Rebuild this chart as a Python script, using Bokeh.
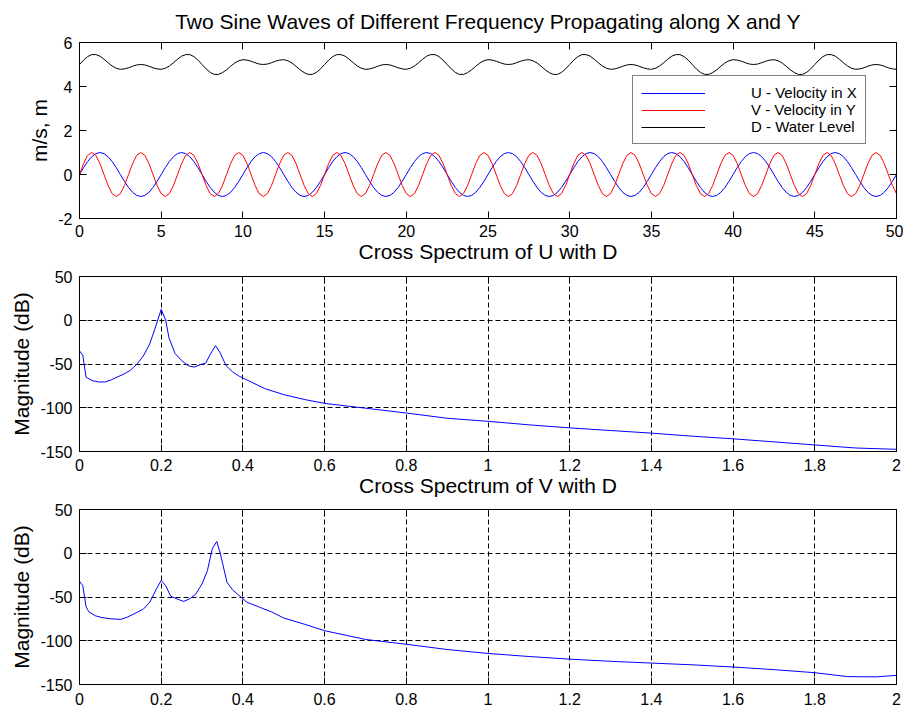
import numpy as np
from bokeh.plotting import figure
from bokeh.layouts import column
from bokeh.models import (Range1d, LinearAxis, FixedTicker, Legend, LegendItem,
                          CustomJSTickFormatter, Title)
from bokeh.embed import file_html
from bokeh.resources import INLINE

FONT = "Liberation Sans"

# ---------------- data ----------------
DT = 0.25          # sample spacing of the time series (s)
N_SAMPLES = 201    # 0 .. 50 s

# one observed cycle of each series (they repeat unchanged across the plot)
U_CYCLE = [0.00, 0.31, 0.59, 0.81, 0.95, 1.00, 0.95, 0.81, 0.59, 0.31,
           0.00, -0.31, -0.59, -0.81, -0.95, -1.00, -0.95, -0.81, -0.59, -0.31]
V_CYCLE = [0.00, 0.50, 0.87, 1.00, 0.87, 0.50, 0.00, -0.50, -0.87, -1.00, -0.87, -0.50]
D_CYCLE = [5.00, 5.20, 5.36, 5.45, 5.45, 5.38, 5.24, 5.08, 4.93, 4.83,
           4.78, 4.80, 4.85, 4.92, 4.98, 5.00, 4.98, 4.92, 4.85, 4.80,
           4.78, 4.83, 4.93, 5.08, 5.24, 5.38, 5.45, 5.45, 5.36, 5.20,
           5.00, 4.80, 4.64, 4.55, 4.55, 4.63, 4.76, 4.92, 5.07, 5.17,
           5.22, 5.20, 5.15, 5.08, 5.02, 5.00, 5.02, 5.08, 5.15, 5.20,
           5.22, 5.17, 5.07, 4.92, 4.76, 4.63, 4.55, 4.55, 4.64, 4.80]

SERIES_LABELS = ["U - Velocity in X", "V - Velocity in Y", "D - Water Level"]

UD_F = [0.000, 0.008, 0.016, 0.031, 0.047, 0.063, 0.078, 0.094, 0.109, 0.125,
        0.141, 0.156, 0.172, 0.188, 0.200, 0.211, 0.219, 0.234, 0.250, 0.266,
        0.281, 0.297, 0.309, 0.320, 0.333, 0.344, 0.359, 0.375, 0.391, 0.422,
        0.453, 0.500, 0.550, 0.600, 0.700, 0.800, 0.900, 1.000, 1.100, 1.200,
        1.300, 1.400, 1.500, 1.600, 1.700, 1.800, 1.900, 2.000]
UD_DB = [-35, -40, -65, -69, -70.5, -70.5, -68, -64.5, -61.5, -57,
         -50, -41, -27, -5, 12.5, 0, -20, -38, -46, -52,
         -53.5, -50.5, -49, -39, -29, -37, -52, -59, -64, -71,
         -78, -85, -90.5, -95, -100.5, -106, -112, -115.5, -119.5, -123,
         -126, -129, -132.5, -135.5, -139, -142.5, -146, -147.5]

VD_F = [0.000, 0.008, 0.016, 0.023, 0.039, 0.055, 0.078, 0.102, 0.117, 0.141,
        0.156, 0.172, 0.188, 0.200, 0.211, 0.223, 0.240, 0.255, 0.270, 0.284,
        0.300, 0.313, 0.325, 0.336, 0.345, 0.361, 0.375, 0.395, 0.410, 0.440,
        0.470, 0.500, 0.550, 0.600, 0.700, 0.800, 0.900, 1.000, 1.100, 1.200,
        1.300, 1.400, 1.500, 1.600, 1.700, 1.800, 1.880, 1.950, 2.000]
VD_DB = [-32, -37, -61, -67, -71.5, -73.5, -75, -75.5, -73, -67.5,
         -64, -56, -41, -31, -37, -49, -52.5, -55, -52, -47,
         -35, -20, 5, 13.5, -1, -33, -42, -50, -56, -61.5,
         -67, -74, -81, -88.5, -98.5, -104, -110, -114.5, -118, -121,
         -123.5, -125.5, -127.5, -130, -133, -136.5, -141, -141.3, -139.5]

TITLES = ["Two Sine Waves of Different Frequency Propagating along X and Y",
          "Cross Spectrum of U with D",
          "Cross Spectrum of V with D"]
YLABELS = ["m/s, m", "Magnitude (dB)", "Magnitude (dB)"]

TOP_XTICKS = [0, 5, 10, 15, 20, 25, 30, 35, 40, 45, 50]
TOP_YTICKS = [-2, 0, 2, 4, 6]
SPEC_XTICKS = [0, 0.2, 0.4, 0.6, 0.8, 1, 1.2, 1.4, 1.6, 1.8, 2]
SPEC_YTICKS = [-150, -100, -50, 0, 50]

t = np.arange(N_SAMPLES) * DT
u = np.resize(np.array(U_CYCLE), N_SAMPLES)
v = np.resize(np.array(V_CYCLE), N_SAMPLES)
d = np.resize(np.array(D_CYCLE), N_SAMPLES)

W = 903
BORDER_L = 79
BORDER_R = 7


def title_obj(text, standoff):
    return Title(text=text, text_font=FONT, text_font_size="21px",
                 text_font_style="normal", text_color="black",
                 align="center", vertical_align="top", standoff=standoff)


def make_fig(top, frame_h, bottom, xr, yr, xticks, yticks, ylabel, xstandoff, grid):
    p = figure(width=W, height=top + frame_h + bottom,
               x_range=Range1d(*xr), y_range=Range1d(*yr),
               output_backend="svg", toolbar_location=None,
               min_border_left=BORDER_L, min_border_right=BORDER_R,
               min_border_top=top, min_border_bottom=bottom)
    p.background_fill_color = "white"
    p.border_fill_color = "white"
    p.outline_line_color = "black"
    p.outline_line_width = 1

    xa = p.xaxis[0]
    ya = p.yaxis[0]
    xa.ticker = FixedTicker(ticks=xticks)
    ya.ticker = FixedTicker(ticks=yticks)
    for ax in (xa, ya):
        ax.formatter = CustomJSTickFormatter(code="return String(tick)")
        ax.axis_line_color = "black"
        ax.major_tick_in = 7
        ax.major_tick_out = 0
        ax.minor_tick_line_color = None
        ax.major_tick_line_color = "black"
        ax.major_label_text_font = FONT
        ax.major_label_text_font_size = "16px"
        ax.major_label_text_color = "black"
    xa.major_label_standoff = xstandoff
    ya.major_label_standoff = 7
    ya.axis_label = ylabel
    ya.axis_label_text_font = FONT
    ya.axis_label_text_font_size = "21px"
    ya.axis_label_text_font_style = "normal"
    ya.axis_label_text_color = "black"
    ya.axis_label_standoff = 4

    # mirrored inward ticks on top and right (box on), no labels
    for side, ticks in (("above", xticks), ("right", yticks)):
        ax = LinearAxis(ticker=FixedTicker(ticks=ticks),
                        formatter=CustomJSTickFormatter(code="return ''"),
                        major_tick_in=7, major_tick_out=0,
                        minor_tick_line_color=None,
                        axis_line_color="black", major_tick_line_color="black",
                        major_label_text_color=None,
                        major_label_text_font_size="1px", major_label_standoff=0)
        p.add_layout(ax, side)

    if grid:
        p.xgrid.ticker = FixedTicker(ticks=xticks)
        p.ygrid.ticker = FixedTicker(ticks=yticks)
        for g in (p.xgrid, p.ygrid):
            g.grid_line_color = "black"
            g.grid_line_dash = "5 3"
            g.grid_line_width = 1
    else:
        p.xgrid.grid_line_color = None
        p.ygrid.grid_line_color = None
    return p


# ---------------- top: time series ----------------
p1 = make_fig(42, 176, 52, (0, 50), (-2, 6), TOP_XTICKS, TOP_YTICKS,
              YLABELS[0], 6, False)
p1.add_layout(title_obj(TITLES[0], 15), "above")
# the title of the next subplot sits right under these tick labels
p1.add_layout(title_obj(TITLES[1], 0), "below")
r_u = p1.line(t, u, line_color="#0000ff", line_width=1)
r_v = p1.line(t, v, line_color="#ff0000", line_width=1)
r_d = p1.line(t, d, line_color="#000000", line_width=1)

legend = Legend(items=[LegendItem(label=SERIES_LABELS[0], renderers=[r_u]),
                       LegendItem(label=SERIES_LABELS[1], renderers=[r_v]),
                       LegendItem(label=SERIES_LABELS[2], renderers=[r_d])],
                location=(553, 74))
legend.label_text_font = FONT
legend.label_text_font_size = "15px"
legend.label_text_color = "black"
legend.glyph_width = 64
legend.glyph_height = 16
legend.label_height = 16
legend.label_standoff = 46
legend.spacing = 0
legend.padding = 8
legend.margin = 0
legend.border_line_color = "black"
legend.border_line_width = 1
legend.background_fill_color = "white"
legend.background_fill_alpha = 1
p1.add_layout(legend)

# ---------------- middle: cross spectrum U-D ----------------
p2 = make_fig(6, 175, 52, (0, 2), (-150, 50), SPEC_XTICKS, SPEC_YTICKS,
              YLABELS[1], 7, True)
p2.add_layout(title_obj(TITLES[2], 0), "below")
p2.line(UD_F, UD_DB, line_color="#0000ff", line_width=1)

# ---------------- bottom: cross spectrum V-D ----------------
p3 = make_fig(6, 175, 27, (0, 2), (-150, 50), SPEC_XTICKS, SPEC_YTICKS,
              YLABELS[2], 8, True)
p3.line(VD_F, VD_DB, line_color="#0000ff", line_width=1)

layout = column(p1, p2, p3, spacing=0)
open("out.html", "w").write(file_html(layout, INLINE))
